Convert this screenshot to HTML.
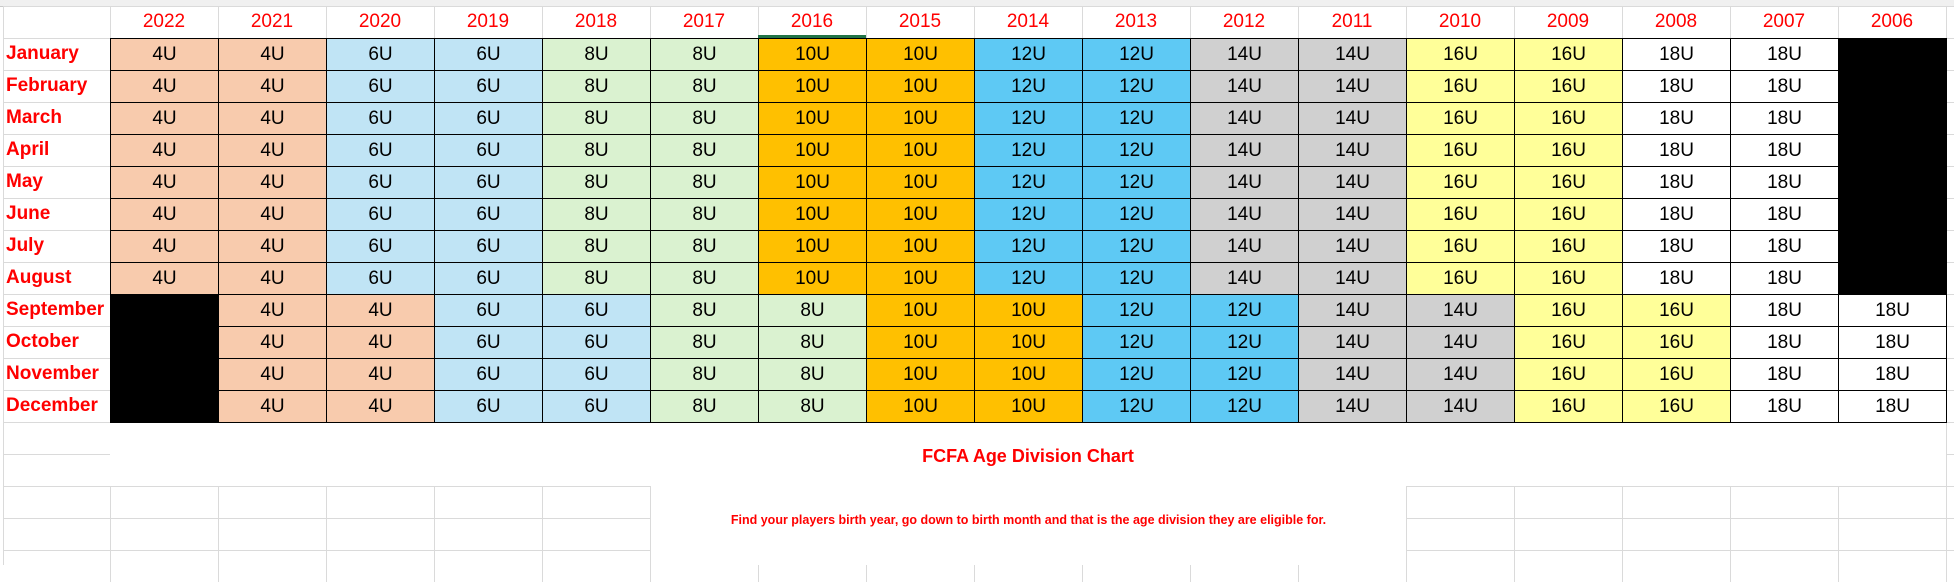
<!DOCTYPE html>
<html><head><meta charset="utf-8">
<style>
body{margin:0;width:1954px;height:565px;overflow:hidden;background:#fff;position:relative;font-family:"Liberation Sans",sans-serif}
.c{position:absolute;box-sizing:border-box;display:flex;align-items:center;justify-content:center}
.g{position:absolute;background:#dadada}
</style></head><body>
<div style="position:absolute;left:0;top:0;width:1954px;height:6px;background:#f0f0f0;border-bottom:1px solid #c8c8c8"></div>
<div id="grid"></div>
<script>
const years=["2022","2021","2020","2019","2018","2017","2016","2015","2014","2013","2012","2011","2010","2009","2008","2007","2006"];
const months=["January","February","March","April","May","June","July","August","September","October","November","December"];
const earlyRow=["4U","4U","6U","6U","8U","8U","10U","10U","12U","12U","14U","14U","16U","16U","18U","18U",""];
const lateRow=["","4U","4U","6U","6U","8U","8U","10U","10U","12U","12U","14U","14U","16U","16U","18U","18U"];
const colors={"4U":"#f8cbad","6U":"#c0e4f5","8U":"#daf2d0","10U":"#ffc000","12U":"#5ec9f4","14U":"#d0d0d0","16U":"#ffff99","18U":"#ffffff","":"#000000"};
const G=document.getElementById('grid');
const X0=110,CW=108,Y0=38,RH=32;
function add(x,y,w,h,css,txt,name){const d=document.createElement('div');d.className='c';d.style.cssText+=`left:${x}px;top:${y}px;width:${w}px;height:${h}px;`+css;if(txt)d.textContent=txt;


G.appendChild(d);return d;}
function line(x,y,w,h){const d=document.createElement('div');d.className='g';d.style.cssText=`left:${x}px;top:${y}px;width:${w}px;height:${h}px`;


G.appendChild(d);}
// background gridlines
line(3,6,1,559);
for(let r=0;r<=17;r++){const y=6+r*RH+(r>0?0:0);line(3,Y0+(r-1)*RH,1951,1);}
for(let c=0;c<=17;c++)line(X0+c*CW,6,1,32);
for(let r=0;r<3;r++)for(let c=0;c<=17;c++)line(X0+c*CW,486+r*32,1,32);
line(1946,422,1,64);
add(110,422,1836,64,'background:#fff;','','title-area');
line(3,454,107,1);
// year headers
years.forEach((y,i)=>add(X0+i*CW,6,CW,32,'color:#ff0000;font-size:19px;',y,'year-header-'+y));
add(X0+6*CW,35,CW,3,'background:#217346;','','selected-column-marker');
// rows
months.forEach((m,r)=>{
 const row=r<8?earlyRow:lateRow;
 row.forEach((v,i)=>{add(X0+i*CW,Y0+r*RH,CW+1,RH+1,`background:${colors[v]};border:1px solid #000;font-size:19px;color:#000;`,v,'cell-'+m.toLowerCase()+'-'+years[i]);});
});
months.forEach((m,r)=>{const d=add(6,Y0+r*RH,140,RH,'justify-content:flex-start;color:#ff0000;font-weight:bold;font-size:19px;',m,'month-label-'+m.toLowerCase());});
add(110,422,1836,64,'color:#ff0000;font-weight:bold;font-size:18px;padding-top:4px;','FCFA Age Division Chart','chart-title');
add(650,486,757,79,'background:#fff;border-left:1px solid #dadada;border-right:1px solid #dadada;color:#ff0000;font-weight:bold;font-size:12.5px;padding-bottom:12px;','Find your players birth year, go down to birth month and that is the age division they are eligible for.','instruction-text');
</script>
</body></html>
